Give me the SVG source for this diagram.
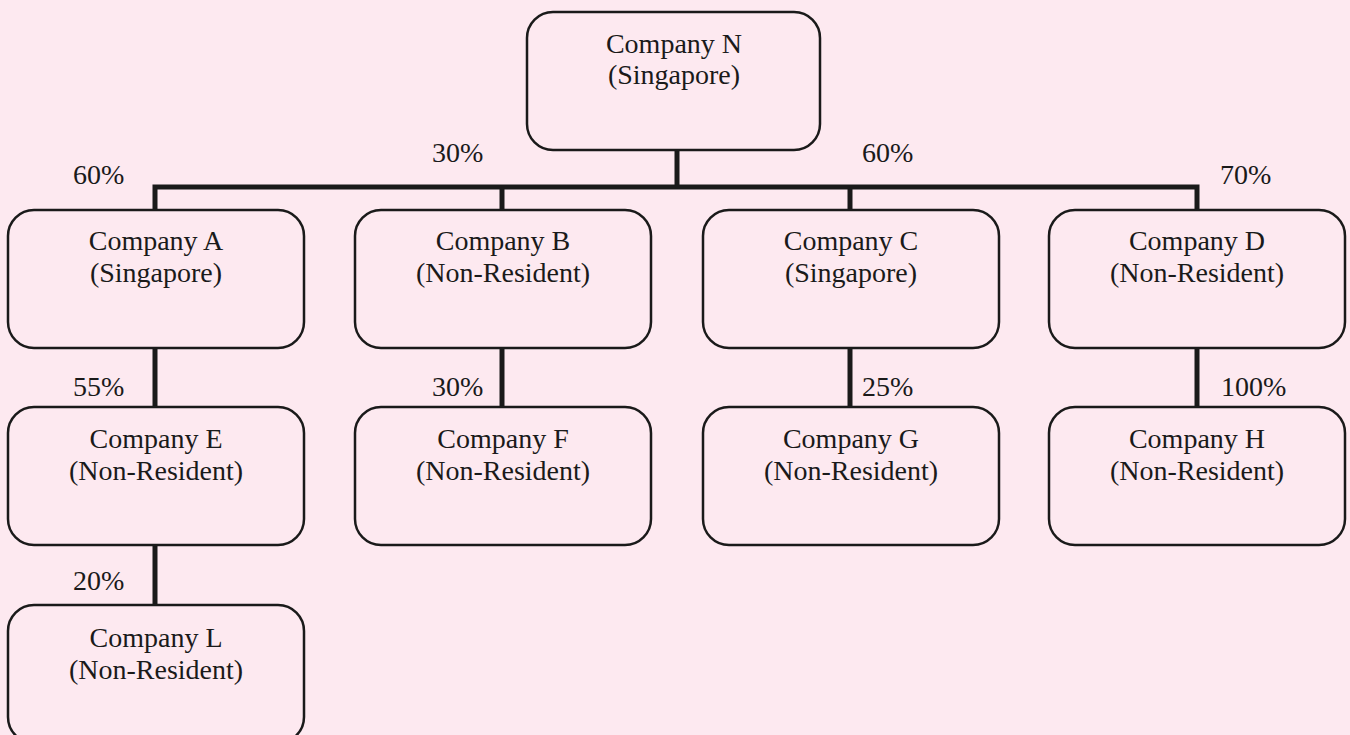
<svg xmlns="http://www.w3.org/2000/svg" width="1350" height="735" viewBox="0 0 1350 735">
<style>
.box{fill:#fde9f0;stroke:#1a1a1a;stroke-width:2.5}
.t{font-family:"Liberation Serif","Times New Roman",serif;font-size:28px;fill:#1a1a1a;text-anchor:middle}
.p{font-family:"Liberation Serif","Times New Roman",serif;font-size:28px;fill:#1a1a1a}
.c{fill:none;stroke:#1a1a1a;stroke-width:5}
</style>
<rect width="1350" height="735" fill="#fde9f0"/>
<g id="connectors">
<path class="c" d="M677 150V187M155 210V187H1197V210M502 187V210M850 187V210"/>
<path class="c" d="M155 348V407M502 348V407M850 348V407M1197 348V407M155 545V605"/>
</g>
<g id="labels">
<text class="p" x="73" y="184">60%</text>
<text class="p" x="432" y="162">30%</text>
<text class="p" x="862" y="162">60%</text>
<text class="p" x="1220" y="184">70%</text>
<text class="p" x="73" y="396">55%</text>
<text class="p" x="432" y="396">30%</text>
<text class="p" x="862" y="396">25%</text>
<text class="p" x="1221" y="396">100%</text>
<text class="p" x="73" y="590">20%</text>
</g>
<g id="nodeN"><rect class="box" x="527" y="12" width="293" height="138" rx="26"/><text class="t" x="674" y="53">Company N</text><text class="t" x="674" y="84">(Singapore)</text></g>
<g id="nodeA"><rect class="box" x="8" y="210" width="296" height="138" rx="26"/><text class="t" x="156" y="250">Company A</text><text class="t" x="156" y="282">(Singapore)</text></g>
<g id="nodeB"><rect class="box" x="355" y="210" width="296" height="138" rx="26"/><text class="t" x="503" y="250">Company B</text><text class="t" x="503" y="282">(Non-Resident)</text></g>
<g id="nodeC"><rect class="box" x="703" y="210" width="296" height="138" rx="26"/><text class="t" x="851" y="250">Company C</text><text class="t" x="851" y="282">(Singapore)</text></g>
<g id="nodeD"><rect class="box" x="1049" y="210" width="296" height="138" rx="26"/><text class="t" x="1197" y="250">Company D</text><text class="t" x="1197" y="282">(Non-Resident)</text></g>
<g id="nodeE"><rect class="box" x="8" y="407" width="296" height="138" rx="26"/><text class="t" x="156" y="448">Company E</text><text class="t" x="156" y="480">(Non-Resident)</text></g>
<g id="nodeF"><rect class="box" x="355" y="407" width="296" height="138" rx="26"/><text class="t" x="503" y="448">Company F</text><text class="t" x="503" y="480">(Non-Resident)</text></g>
<g id="nodeG"><rect class="box" x="703" y="407" width="296" height="138" rx="26"/><text class="t" x="851" y="448">Company G</text><text class="t" x="851" y="480">(Non-Resident)</text></g>
<g id="nodeH"><rect class="box" x="1049" y="407" width="296" height="138" rx="26"/><text class="t" x="1197" y="448">Company H</text><text class="t" x="1197" y="480">(Non-Resident)</text></g>
<g id="nodeL"><rect class="box" x="8" y="605" width="296" height="138" rx="26"/><text class="t" x="156" y="647">Company L</text><text class="t" x="156" y="679">(Non-Resident)</text></g>
</svg>
